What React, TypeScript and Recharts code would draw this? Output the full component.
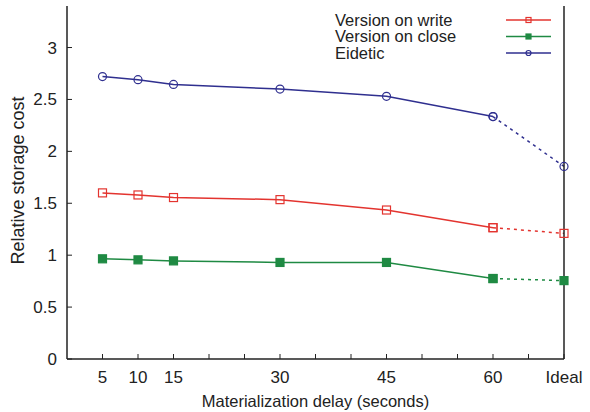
import React from 'react';
import { LineChart, Line, XAxis, YAxis, Legend } from 'recharts';

// delays in seconds; "Ideal" is placed at x = 70
const delays = [5, 10, 15, 30, 45, 60];
const idealX = 70;
const xTickValues = [5, 10, 15, 20, 25, 30, 35, 40, 45, 50, 55, 60, 65, 70];
const xTickLabels: Record<number, string> = { 5: '5', 10: '10', 15: '15', 30: '30', 45: '45', 60: '60', 70: 'Ideal' };
const yTickValues = [0, 0.5, 1, 1.5, 2, 2.5, 3];

const versionOnWrite = [1.6, 1.58, 1.555, 1.535, 1.435, 1.265];
const versionOnClose = [0.965, 0.955, 0.945, 0.93, 0.93, 0.775];
const eidetic = [2.72, 2.69, 2.645, 2.6, 2.53, 2.335];
const idealWrite = 1.21;
const idealClose = 0.755;
const idealEidetic = 1.855;

const RED = '#e3342f';
const GREEN = '#1f8a43';
const BLUE = '#2f2f8f';
const FONT = '"Liberation Sans", Arial, Helvetica, sans-serif';

const last = delays.length - 1;
const data = [
  ...delays.map((x, i) => ({
    x,
    write: versionOnWrite[i],
    close: versionOnClose[i],
    eidetic: eidetic[i],
    writeIdeal: i === last ? versionOnWrite[i] : null,
    closeIdeal: i === last ? versionOnClose[i] : null,
    eideticIdeal: i === last ? eidetic[i] : null,
  })),
  {
    x: idealX,
    write: null,
    close: null,
    eidetic: null,
    writeIdeal: idealWrite,
    closeIdeal: idealClose,
    eideticIdeal: idealEidetic,
  },
];

type Shape = 'openSquare' | 'square' | 'circle';

function marker(shape: Shape, cx: number, cy: number, color: string, s: number, key?: any) {
  if (shape === 'circle') {
    return <circle key={key} cx={cx} cy={cy} r={s / 2} fill="none" stroke={color} strokeWidth={1.2} strokeDasharray="none" />;
  }
  return (
    <rect
      key={key}
      x={cx - s / 2}
      y={cy - s / 2}
      width={s}
      height={s}
      fill={shape === 'square' ? color : 'none'}
      stroke={color}
      strokeWidth={1.2}
      strokeDasharray="none"
    />
  );
}

const makeDot = (shape: Shape, color: string) => (p: any) => {
  if (p.cx == null || p.cy == null || p.value == null) return <g key={p.index} />;
  return marker(shape, p.cx, p.cy, color, 8, p.index);
};

const XTick = (props: any) => {
  const { x, y, payload } = props;
  const label = xTickLabels[payload.value];
  return (
    <g>
      <line x1={x} y1={y} x2={x} y2={y - 5} stroke="#222" />
      {label && (
        <text x={x} y={y + 24} textAnchor="middle" fontSize={17} fontFamily={FONT} fill="#222">
          {label}
        </text>
      )}
    </g>
  );
};

const YTick = (props: any) => {
  const { x, y, payload } = props;
  return (
    <g>
      <line x1={x} y1={y} x2={x + 5} y2={y} stroke="#222" />
      <text x={x - 10} y={y + 6} textAnchor="end" fontSize={17} fontFamily={FONT} fill="#222">
        {payload.value}
      </text>
    </g>
  );
};

const RightTick = (props: any) => {
  const { x, y } = props;
  return <line x1={x} y1={y} x2={x - 5} y2={y} stroke="#222" />;
};

const legendRows: { name: string; color: string; shape: Shape }[] = [
  { name: 'Version on write', color: RED, shape: 'openSquare' },
  { name: 'Version on close', color: GREEN, shape: 'square' },
  { name: 'Eidetic', color: BLUE, shape: 'circle' },
];

const LegendBox = () => (
  <svg width={590} height={70} style={{ display: 'block' }}>
    {legendRows.map((r, i) => {
      const cy = 20 + i * 16.5;
      return (
        <g key={r.name}>
          <text x={335} y={cy + 5.5} fontSize={16.5} fontFamily={FONT} fill="#222">
            {r.name}
          </text>
          <line x1={506} y1={cy} x2={551} y2={cy} stroke={r.color} strokeWidth={1.5} />
          {marker(r.shape, 528.5, cy, r.color, 5)}
        </g>
      );
    })}
  </svg>
);

export default function App() {
  return (
    <div style={{ position: 'absolute', left: 0, top: 0, background: '#fff' }}>
      <LineChart width={590} height={412} data={data} margin={{ top: 6, right: 0, bottom: 0, left: 0 }}>
        <XAxis
          xAxisId="bottom"
          dataKey="x"
          type="number"
          domain={[0, 70]}
          ticks={xTickValues}
          interval={0}
          height={53}
          tickSize={0}
          tickMargin={0}
          tick={<XTick />}
          axisLine={{ stroke: '#222', strokeWidth: 1.5 }}
          tickLine={false}
          label={{
            content: (p: any) => {
              const vb = p.viewBox;
              return (
                <text x={vb.x + vb.width / 2} y={vb.y + 48} textAnchor="middle" fontSize={16.5} fontFamily={FONT} fill="#222">
                  Materialization delay (seconds)
                </text>
              );
            },
          }}
        />
        <XAxis
          xAxisId="top"
          orientation="top"
          dataKey="x"
          type="number"
          domain={[0, 70]}
          height={0}
          tick={false}
          tickLine={false}
          axisLine={{ stroke: '#222', strokeWidth: 1.5 }}
        />
        <YAxis
          yAxisId="left"
          type="number"
          domain={[0, 3.4]}
          ticks={yTickValues}
          interval={0}
          width={67}
          tickSize={0}
          tickMargin={0}
          tick={<YTick />}
          tickLine={false}
          axisLine={{ stroke: '#222', strokeWidth: 1.5 }}
          label={{
            content: (p: any) => {
              const vb = p.viewBox;
              const cy = vb.y + vb.height / 2 - 2;
              return (
                <text
                  x={18}
                  y={cy}
                  transform={`rotate(-90, 18, ${cy})`}
                  textAnchor="middle"
                  dominantBaseline="central"
                  fontSize={18}
                  fontFamily={FONT}
                  fill="#222"
                >
                  Relative storage cost
                </text>
              );
            },
          }}
        />
        <YAxis
          yAxisId="right"
          orientation="right"
          type="number"
          domain={[0, 3.4]}
          ticks={yTickValues}
          interval={0}
          width={26}
          tickSize={0}
          tickMargin={0}
          tick={<RightTick />}
          tickLine={false}
          axisLine={{ stroke: '#222', strokeWidth: 1.5 }}
        />
        <Legend
          layout="vertical"
          align="center"
          verticalAlign="middle"
          content={() => <LegendBox />}
          wrapperStyle={{ position: 'absolute', left: 0, top: 0, width: 590, height: 70, pointerEvents: 'none' }}
        />
        <Line xAxisId="bottom" yAxisId="left" dataKey="write" stroke={RED} strokeWidth={1.5} dot={makeDot('openSquare', RED)} activeDot={false} isAnimationActive={false} />
        <Line xAxisId="bottom" yAxisId="left" dataKey="close" stroke={GREEN} strokeWidth={1.5} dot={makeDot('square', GREEN)} activeDot={false} isAnimationActive={false} />
        <Line xAxisId="bottom" yAxisId="left" dataKey="eidetic" stroke={BLUE} strokeWidth={1.5} dot={makeDot('circle', BLUE)} activeDot={false} isAnimationActive={false} />
        <Line xAxisId="bottom" yAxisId="left" dataKey="writeIdeal" stroke={RED} strokeWidth={1.5} strokeDasharray="3 4" dot={makeDot('openSquare', RED)} activeDot={false} isAnimationActive={false} />
        <Line xAxisId="bottom" yAxisId="left" dataKey="closeIdeal" stroke={GREEN} strokeWidth={1.5} strokeDasharray="3 4" dot={makeDot('square', GREEN)} activeDot={false} isAnimationActive={false} />
        <Line xAxisId="bottom" yAxisId="left" dataKey="eideticIdeal" stroke={BLUE} strokeWidth={1.5} strokeDasharray="3 4" dot={makeDot('circle', BLUE)} activeDot={false} isAnimationActive={false} />
      </LineChart>
    </div>
  );
}
